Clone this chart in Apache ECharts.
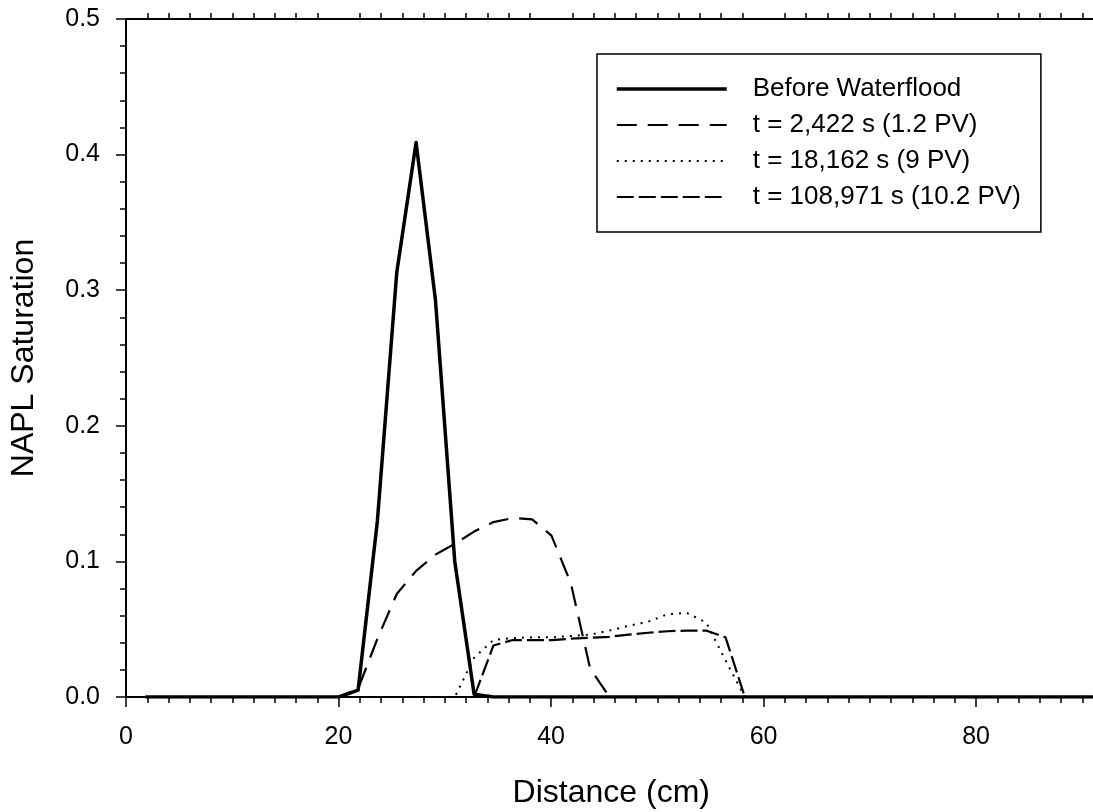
<!DOCTYPE html>
<html><head><meta charset="utf-8">
<script src="https://cdn.jsdelivr.net/npm/echarts@6/dist/echarts.min.js"></script>
<style>html,body{margin:0;padding:0;background:#fff}#c{width:1093px;height:812px}</style>
</head><body><div id="c"></div>
<script>
// Grid cell positions along the column (cm)
const distance = [1.82, 3.64, 5.46, 7.28, 9.10, 10.92, 12.74, 14.56, 16.38, 18.20,
  20.02, 21.84, 23.66, 25.48, 27.30, 29.12, 30.94, 32.76, 34.58, 36.40,
  38.22, 40.04, 41.86, 43.68, 45.50, 47.32, 49.14, 50.96, 52.78, 54.60,
  56.42, 58.24, 60.06, 61.88, 63.70, 65.52, 67.34, 69.16, 70.98, 72.80,
  74.62, 76.44, 78.26, 80.08, 81.90, 83.72, 85.54, 87.36, 89.18, 91.00];

const seriesNames = ['Before Waterflood', 't = 2,422 s (1.2 PV)', 't = 18,162 s (9 PV)', 't = 108,971 s (10.2 PV)'];

const beforeWaterflood = [0,0,0,0,0,0,0,0,0,0,
  0,0.005,0.13,0.313,0.409,0.293,0.10,0.002,0,0,
  0,0,0,0,0,0,0,0,0,0,
  0,0,0,0,0,0,0,0,0,0,
  0,0,0,0,0,0,0,0,0,0];
const t2422 = [0,0,0,0,0,0,0,0,0,0,
  0,0.006,0.043,0.076,0.093,0.105,0.113,0.122,0.129,0.132,
  0.131,0.119,0.084,0.021,0,0,0,0,0,0,
  0,0,0,0,0,0,0,0,0,0,
  0,0,0,0,0,0,0,0,0,0];
const t18162 = [0,0,0,0,0,0,0,0,0,0,
  0,0,0,0,0,0,0,0.029,0.042,0.0435,
  0.044,0.044,0.045,0.046,0.049,0.0525,0.0555,0.061,0.062,0.055,
  0.027,0,0,0,0,0,0,0,0,0,
  0,0,0,0,0,0,0,0,0,0];
const t108971 = [0,0,0,0,0,0,0,0,0,0,
  0,0,0,0,0,0,0,0,0.038,0.042,
  0.042,0.042,0.043,0.0437,0.0444,0.046,0.0474,0.0485,0.049,0.049,
  0.044,0,0,0,0,0,0,0,0,0,
  0,0,0,0,0,0,0,0,0,0];

const FONT = 'Liberation Sans, Arial, sans-serif';
const pairs = arr => distance.map((d, i) => [d, arr[i]]);

const styles = [
  {width: 3.5, type: 'solid'},
  {width: 2.2, type: [20, 11]},
  {width: 2, type: [2, 6]},
  {width: 2.2, type: [17, 5]}
];
const values = [beforeWaterflood, t2422, t18162, t108971];

const chart = echarts.init(document.getElementById('c'), null, {renderer: 'canvas'});
chart.setOption({
  animation: false,
  backgroundColor: '#fff',
  grid: {left: 126, top: 19, right: -95.6, bottom: 115, outerBoundsMode: 'none', containLabel: false},
  legend: {
    orient: 'vertical', left: 597, top: 54,
    padding: [22, 20, 22, 18],
    borderColor: '#000', borderWidth: 1.5,
    itemWidth: 110, itemHeight: 4, itemGap: 10,
    lineStyle: {width: 'inherit'},
    textStyle: {fontFamily: FONT, fontSize: 26, color: '#000', lineHeight: 26, padding: [0, 0, 0, 21]},
    data: seriesNames
  },
  xAxis: [{
    type: 'value', min: 0, max: 100, interval: 20,
    position: 'bottom',
    name: 'Distance (cm)', nameLocation: 'middle', nameGap: 80,
    nameTextStyle: {fontFamily: FONT, fontSize: 32, color: '#000', padding: [0, 92, 0, 0]},
    axisLine: {show: true, onZero: false, lineStyle: {color: '#000', width: 2}},
    axisTick: {show: true, length: 10, lineStyle: {color: '#000', width: 1.5}},
    minorTick: {show: true, splitNumber: 10, length: 6, lineStyle: {color: '#000', width: 1.5}},
    axisLabel: {fontFamily: FONT, fontSize: 25, color: '#000', margin: 28},
    splitLine: {show: false}
  }, {
    type: 'value', min: 0, max: 100, interval: 20,
    position: 'top',
    axisLine: {show: true, onZero: false, lineStyle: {color: '#000', width: 2}},
    axisTick: {show: false},
    minorTick: {show: true, splitNumber: 10, length: 6, lineStyle: {color: '#000', width: 1.5}},
    axisLabel: {show: false},
    splitLine: {show: false}
  }],
  yAxis: {
    type: 'value', min: 0, max: 0.5, interval: 0.1,
    name: 'NAPL Saturation', nameLocation: 'middle', nameGap: 86,
    nameTextStyle: {fontFamily: FONT, fontSize: 32, color: '#000'},
    axisLine: {show: true, lineStyle: {color: '#000', width: 2}},
    axisTick: {show: true, length: 10, lineStyle: {color: '#000', width: 1.5}},
    minorTick: {show: true, splitNumber: 5, length: 6, lineStyle: {color: '#000', width: 1.5}},
    axisLabel: {fontFamily: FONT, fontSize: 25, color: '#000', margin: 26, formatter: v => v.toFixed(1)},
    splitLine: {show: false}
  },
  series: seriesNames.map((name, k) => ({
    name, type: 'line', xAxisIndex: 0,
    data: pairs(values[k]),
    symbol: 'none', smooth: false, silent: true,
    itemStyle: {color: 'rgba(0,0,0,0)'},
    lineStyle: {color: '#000', width: styles[k].width, type: styles[k].type, cap: 'butt', join: 'round'},
    z: 2 + k
  }))
});
</script>
</body></html>
